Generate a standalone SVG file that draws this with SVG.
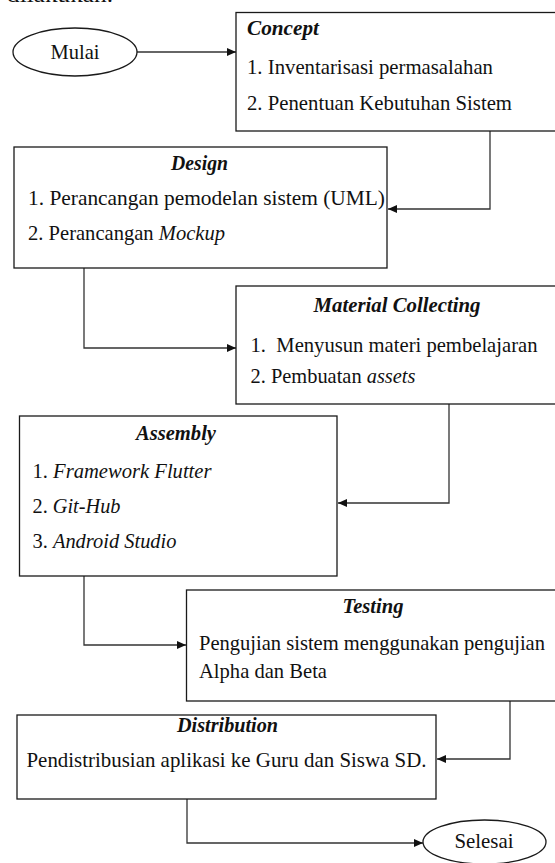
<svg xmlns="http://www.w3.org/2000/svg" width="555" height="863" viewBox="0 0 555 863" font-family="'Liberation Serif', 'DejaVu Serif', serif">
  <style>
    .box { fill: #ffffff; stroke: #1a1a1a; stroke-width: 1.3; }
    .term { fill: #ffffff; stroke: #1a1a1a; stroke-width: 1.3; }
    .ln { fill: none; stroke: #333333; stroke-width: 1.3; }
    text { font-family: 'Liberation Serif', 'DejaVu Serif', serif; font-size: 21px; fill: #111111; }
    .ttl { font-weight: bold; font-style: italic; text-anchor: middle; }
    .mid { text-anchor: middle; }
    .it { font-style: italic; }
  </style>
  <defs>
    <marker id="arrow" markerUnits="userSpaceOnUse" markerWidth="10" markerHeight="8" refX="9" refY="4" orient="auto">
      <path d="M0,0 L9,4 L0,8 Z" fill="#111111"/>
    </marker>
  </defs>
  <rect width="555" height="863" fill="#ffffff"/>

  <!-- line of body text above the chart, cut by the top edge -->
  <text x="7" y="2" textLength="106" lengthAdjust="spacingAndGlyphs">dilakukan.</text>

  <!-- connectors -->
  <g id="connectors">
    <path class="ln" d="M137,52 H236" marker-end="url(#arrow)"/>
    <path class="ln" d="M490,131 V209 H388" marker-end="url(#arrow)"/>
    <path class="ln" d="M84,268 V348 H236" marker-end="url(#arrow)"/>
    <path class="ln" d="M449,404 V503 H338" marker-end="url(#arrow)"/>
    <path class="ln" d="M84,576 V645 H186" marker-end="url(#arrow)"/>
    <path class="ln" d="M510,701 V759 H437" marker-end="url(#arrow)"/>
    <path class="ln" d="M187,799 V843 H423" marker-end="url(#arrow)"/>
  </g>

  <g id="mulai">
    <ellipse class="term" cx="75" cy="52" rx="62" ry="24"/>
    <text class="mid" x="75" y="59" textLength="49" lengthAdjust="spacingAndGlyphs">Mulai</text>
  </g>

  <g id="concept">
    <rect class="box" x="236" y="12.5" width="330" height="118.5"/>
    <text class="ttl" x="283" y="35" textLength="72" lengthAdjust="spacingAndGlyphs">Concept</text>
    <text x="247" y="74" textLength="246" lengthAdjust="spacingAndGlyphs">1. Inventarisasi permasalahan</text>
    <text x="247" y="110" textLength="265" lengthAdjust="spacingAndGlyphs">2. Penentuan Kebutuhan Sistem</text>
  </g>

  <g id="design">
    <rect class="box" x="14" y="147" width="373" height="121"/>
    <text class="ttl" x="199.5" y="170" textLength="57" lengthAdjust="spacingAndGlyphs">Design</text>
    <text x="28" y="205" textLength="357" lengthAdjust="spacingAndGlyphs">1. Perancangan pemodelan sistem (UML)</text>
    <text x="28" y="240" textLength="197" lengthAdjust="spacingAndGlyphs">2. Perancangan <tspan class="it">Mockup</tspan></text>
  </g>

  <g id="material-collecting">
    <rect class="box" x="236" y="286" width="330" height="118"/>
    <text class="ttl" x="397" y="312" textLength="167" lengthAdjust="spacingAndGlyphs">Material Collecting</text>
    <text x="250.5" y="352" textLength="287" lengthAdjust="spacingAndGlyphs" xml:space="preserve">1.  Menyusun materi pembelajaran</text>
    <text x="250.5" y="383" textLength="165" lengthAdjust="spacingAndGlyphs">2. Pembuatan <tspan class="it">assets</tspan></text>
  </g>

  <g id="assembly">
    <rect class="box" x="19.5" y="416" width="317.5" height="160"/>
    <text class="ttl" x="176" y="440" textLength="80" lengthAdjust="spacingAndGlyphs">Assembly</text>
    <text x="32.5" y="478" textLength="179" lengthAdjust="spacingAndGlyphs">1. <tspan class="it">Framework Flutter</tspan></text>
    <text x="32.5" y="513" textLength="88" lengthAdjust="spacingAndGlyphs">2. <tspan class="it">Git-Hub</tspan></text>
    <text x="32.5" y="548" textLength="144" lengthAdjust="spacingAndGlyphs">3. <tspan class="it">Android Studio</tspan></text>
  </g>

  <g id="testing">
    <rect class="box" x="186.5" y="590" width="380" height="111"/>
    <text class="ttl" x="373" y="613" textLength="61" lengthAdjust="spacingAndGlyphs">Testing</text>
    <text x="199" y="650" textLength="346" lengthAdjust="spacingAndGlyphs">Pengujian sistem menggunakan pengujian</text>
    <text x="199" y="678" textLength="128" lengthAdjust="spacingAndGlyphs">Alpha dan Beta</text>
  </g>

  <g id="distribution">
    <rect class="box" x="17" y="715" width="419" height="84"/>
    <text class="ttl" x="227.5" y="732" textLength="101" lengthAdjust="spacingAndGlyphs">Distribution</text>
    <text x="26.5" y="767" textLength="400" lengthAdjust="spacingAndGlyphs">Pendistribusian aplikasi ke Guru dan Siswa SD.</text>
  </g>

  <g id="selesai">
    <ellipse class="term" cx="484.5" cy="842" rx="61.5" ry="22"/>
    <text class="mid" x="484" y="848" textLength="59" lengthAdjust="spacingAndGlyphs">Selesai</text>
  </g>
</svg>
